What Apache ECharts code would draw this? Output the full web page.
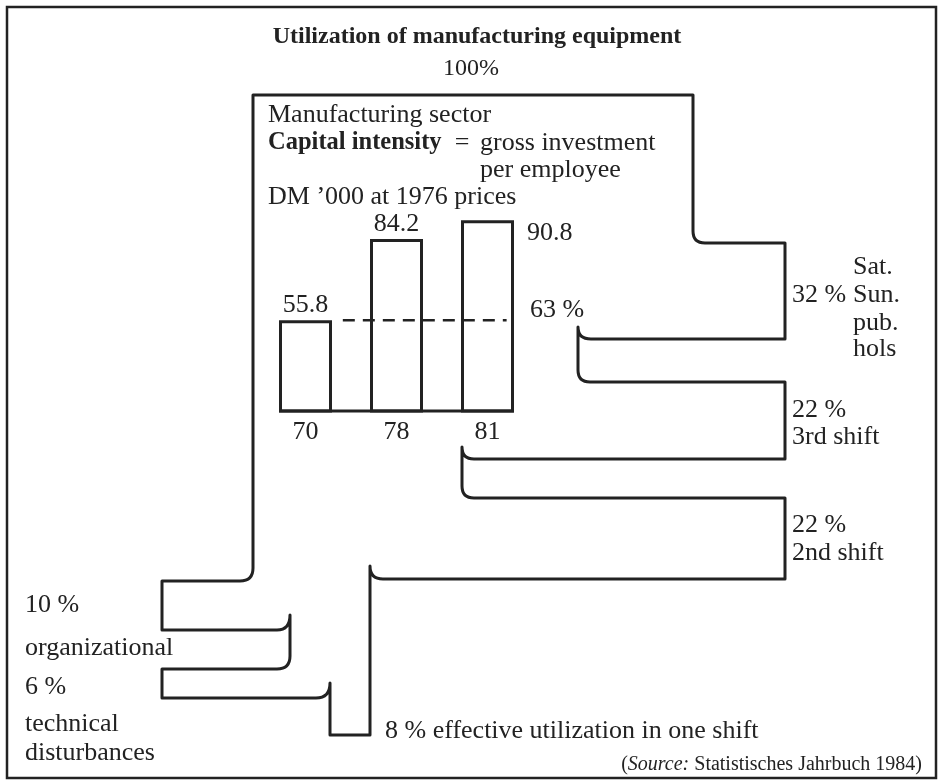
<!DOCTYPE html>
<html>
<head>
<meta charset="utf-8">
<script src="https://cdn.jsdelivr.net/npm/echarts@6/dist/echarts.min.js"></script>
<style>
  html, body { margin: 0; padding: 0; background: #ffffff; }
  #chart { width: 942px; height: 781px; }
</style>
</head>
<body>
<div id="chart"></div>
<script>
// ---- data ----
const categories = ['70', '78', '81'];
const capitalIntensity = [55.8, 84.2, 90.8];
const referenceLevel = 55.8;
const refLineExtent = [0.41, 2.21];      // dashed line extent in category units
const baselineExtent = [-0.29, 2.29];    // baseline extent in category units
const axisMin = 24;
const axisMax = 94;

const titleText = 'Utilization of manufacturing equipment';
const totalLabel = '100%';
const remainLabel = '63 %';
const flowPercents = ['32 %', '22 %', '22 %', '10 %', '6 %', '8 %'];
const flowNames = [['Sat.', 'Sun.', 'pub.', 'hols'], ['3rd shift'], ['2nd shift'], ['organizational'], ['technical', 'disturbances'], ['effective utilization in one shift']];
const sourceText = 'Statistisches Jahrbuch 1984';

// ---- style ----
const FONT = '"Liberation Serif", "Times New Roman", serif';
const INK = '#222222';
const FS = 26;

function txt(text, x, y, o) {
  o = o || {};
  return {
    type: 'text', x: x, y: y, z: 10,
    style: {
      text: text, fill: INK,
      font: (o.weight || 'normal') + ' ' + (o.size || FS) + 'px ' + FONT,
      textAlign: o.align || 'left', textVerticalAlign: 'middle'
    }
  };
}

const flowPath =
  'M253,95 L693,95 L693,231 Q693,243 705,243 L785,243 L785,339 L591,339 Q578,339 578,327 ' +
  'L578,370 Q578,382 590,382 L785,382 L785,459 L474,459 Q462,459 462,447 ' +
  'L462,486 Q462,498 474,498 L785,498 L785,579 L383,579 Q370,579 370,566 ' +
  'L370,735 L330,735 L330,683 Q330,698 316,698 L162,698 L162,669 L277,669 Q290,669 290,656 ' +
  'L290,615 Q290,630 277,630 L162,630 L162,581 L240,581 Q253,581 253,568 Z';

const graphics = [
  { type: 'rect', shape: { x: 7, y: 7, width: 929, height: 771 },
    style: { fill: 'none', stroke: INK, lineWidth: 2.5 } },
  txt(totalLabel, 471, 69, { size: 24, align: 'center' }),
  txt('Manufacturing sector', 268, 115),
  txt('Capital intensity', 268, 143, { weight: 'bold', size: 24.5 }),
  txt('=', 462, 143, { align: 'center' }),
  txt('gross investment', 480, 143),
  txt('per employee', 480, 170),
  txt('DM \u2019000 at 1976 prices', 268, 197),
  txt(remainLabel, 530, 310),
  // right side
  txt(flowPercents[0], 792, 295),
  txt(flowNames[0][0], 853, 267),
  txt(flowNames[0][1], 853, 295),
  txt(flowNames[0][2], 853, 323),
  txt(flowNames[0][3], 853, 349),
  txt(flowPercents[1], 792, 410),
  txt(flowNames[1][0], 792, 437),
  txt(flowPercents[2], 792, 525),
  txt(flowNames[2][0], 792, 553),
  // left side
  txt(flowPercents[3], 25, 605),
  txt(flowNames[3][0], 25, 648),
  txt(flowPercents[4], 25, 687),
  txt(flowNames[4][0], 25, 724),
  txt(flowNames[4][1], 25, 753),
  // bottom
  txt(flowPercents[5] + ' ' + flowNames[5][0], 385, 731),
  {
    type: 'text', x: 922, y: 765, z: 10,
    style: {
      text: '({i|Source:} ' + sourceText + ')',
      fill: INK, font: '20px ' + FONT,
      textAlign: 'right', textVerticalAlign: 'middle',
      rich: { i: { fontStyle: 'italic', fontSize: 20, fontFamily: FONT, fill: INK } }
    }
  }
];

const chart = echarts.init(document.getElementById('chart'), null, { renderer: 'canvas' });
chart.setOption({
  backgroundColor: '#ffffff',
  animation: false,
  title: {
    text: titleText, left: 472, top: 20, textAlign: 'center',
    textStyle: { fontFamily: FONT, fontWeight: 'bold', fontSize: 24, color: INK }
  },
  grid: { left: 260, width: 273, top: 211, height: 200 },
  xAxis: [
    { type: 'category', data: categories, gridIndex: 0,
      axisLine: { show: false }, axisTick: { show: false }, splitLine: { show: false },
      axisLabel: { fontFamily: FONT, fontSize: FS, color: INK, margin: 8 } },
    { type: 'value', gridIndex: 0, min: -0.5, max: 2.5, show: false }
  ],
  yAxis: { type: 'value', min: axisMin, max: axisMax, show: false },
  series: [
    {
      type: 'custom', coordinateSystem: 'none', silent: true, z: 2,
      data: [0],
      renderItem: function () {
        return {
          type: 'path',
          shape: { pathData: flowPath },
          style: { fill: 'none', stroke: INK, lineWidth: 3, lineJoin: 'round' }
        };
      }
    },
    {
      type: 'bar', xAxisIndex: 0, barWidth: 53, z: 3,
      itemStyle: { color: 'rgba(255,255,255,0)', borderColor: INK, borderWidth: 3 },
      label: { show: true, position: 'top', distance: 2, fontFamily: FONT, fontSize: FS, color: INK },
      data: capitalIntensity.map((v, i) => i === capitalIntensity.length - 1
        ? { value: v, label: { position: [66, 0], align: 'left', verticalAlign: 'top' } }
        : v)
    },
    {
      type: 'line', xAxisIndex: 1, symbol: 'none', z: 4,
      lineStyle: { color: INK, width: 2.5, type: [12, 8] },
      data: [[refLineExtent[0], referenceLevel], [refLineExtent[1], referenceLevel]]
    },
    {
      type: 'line', xAxisIndex: 1, symbol: 'none', z: 4, clip: false,
      lineStyle: { color: INK, width: 3 },
      data: [[baselineExtent[0], axisMin], [baselineExtent[1], axisMin]]
    }
  ],
  graphic: graphics
});
</script>
</body>
</html>
